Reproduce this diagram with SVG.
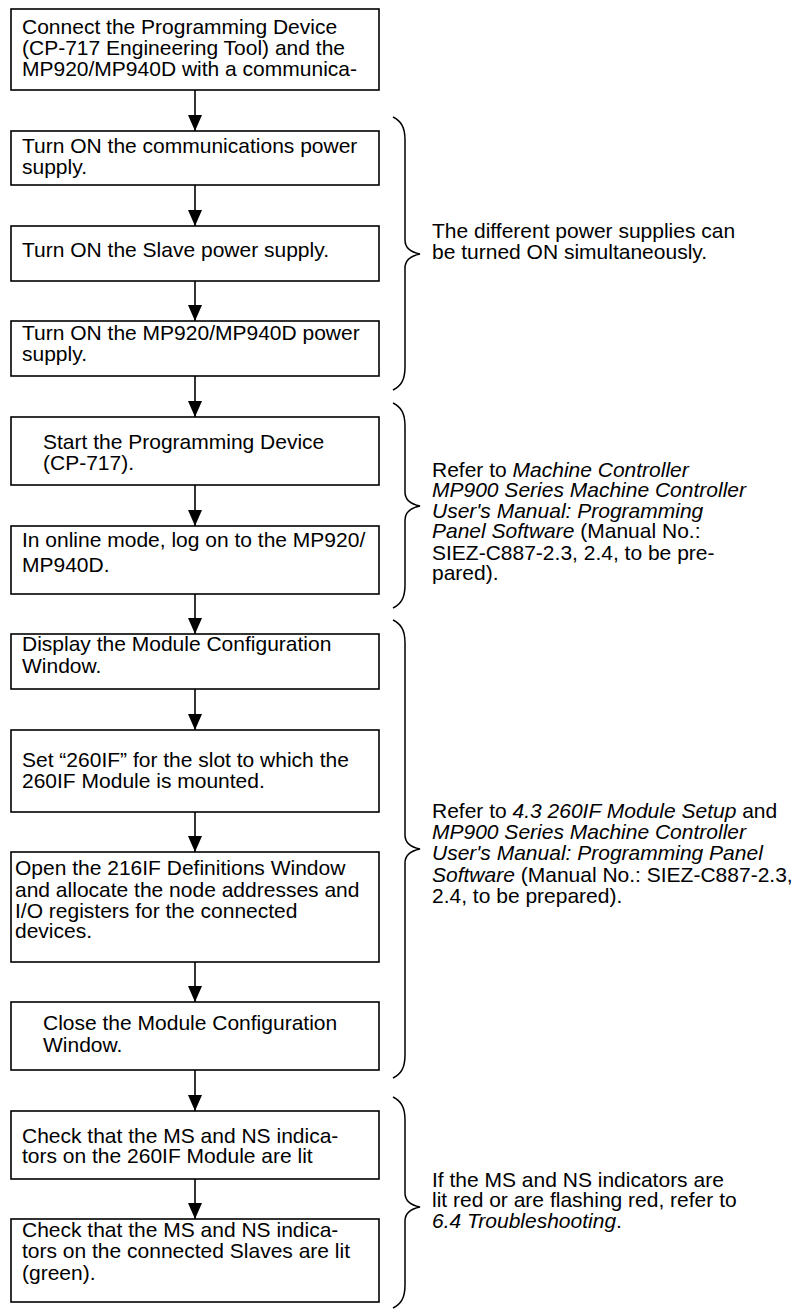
<svg xmlns="http://www.w3.org/2000/svg" width="794" height="1310" viewBox="0 0 794 1310">
<defs>
<style>
.box{fill:#fff;stroke:#000;stroke-width:1.6}
.t{font-family:"Liberation Sans",Arial,sans-serif;font-size:21px;fill:#000}
.i{font-style:italic}
.con{stroke:#000;stroke-width:1.6;fill:none}
.brace{stroke:#000;stroke-width:1.5;fill:none}
</style>
<marker id="ah" markerUnits="userSpaceOnUse" markerWidth="16" markerHeight="14" refX="16" refY="7" orient="auto" viewBox="0 0 16 14">
<path d="M0 0 L16 7 L0 14 Z" fill="#000"/>
</marker>
</defs>
<rect width="794" height="1310" fill="#fff"/>

<g id="connectors">
<line class="con" x1="195" y1="90" x2="195" y2="131" marker-end="url(#ah)"/>
<line class="con" x1="195" y1="185" x2="195" y2="226" marker-end="url(#ah)"/>
<line class="con" x1="195" y1="281" x2="195" y2="321" marker-end="url(#ah)"/>
<line class="con" x1="195" y1="376" x2="195" y2="417" marker-end="url(#ah)"/>
<line class="con" x1="195" y1="485" x2="195" y2="526" marker-end="url(#ah)"/>
<line class="con" x1="195" y1="594" x2="195" y2="634" marker-end="url(#ah)"/>
<line class="con" x1="195" y1="689" x2="195" y2="730" marker-end="url(#ah)"/>
<line class="con" x1="195" y1="812" x2="195" y2="852" marker-end="url(#ah)"/>
<line class="con" x1="195" y1="962" x2="195" y2="1002" marker-end="url(#ah)"/>
<line class="con" x1="195" y1="1070" x2="195" y2="1111" marker-end="url(#ah)"/>
<line class="con" x1="195" y1="1179" x2="195" y2="1219" marker-end="url(#ah)"/>
</g>

<g id="n1">
<rect class="box" x="11" y="9" width="368" height="81"/>
<text class="t" x="22" y="34">Connect the Programming Device</text>
<text class="t" x="22" y="55">(CP-717 Engineering Tool) and the</text>
<text class="t" x="22" y="76">MP920/MP940D with a communica-</text>
</g>
<g id="n2">
<rect class="box" x="11" y="131" width="368" height="54"/>
<text class="t" x="22" y="153">Turn ON the communications power</text>
<text class="t" x="22" y="174">supply.</text>
</g>
<g id="n3">
<rect class="box" x="11" y="226" width="368" height="55"/>
<text class="t" x="22" y="257">Turn ON the Slave power supply.</text>
</g>
<g id="n4">
<rect class="box" x="11" y="321" width="368" height="55"/>
<text class="t" x="22" y="340">Turn ON the MP920/MP940D power</text>
<text class="t" x="22" y="361">supply.</text>
</g>
<g id="n5">
<rect class="box" x="11" y="417" width="368" height="68"/>
<text class="t" x="43" y="449">Start the Programming Device</text>
<text class="t" x="43" y="470">(CP-717).</text>
</g>
<g id="n6">
<rect class="box" x="11" y="526" width="368" height="68"/>
<text class="t" x="22" y="547">In online mode, log on to the MP920/</text>
<text class="t" x="22" y="572">MP940D.</text>
</g>
<g id="n7">
<rect class="box" x="11" y="634" width="368" height="55"/>
<text class="t" x="22" y="651">Display the Module Configuration</text>
<text class="t" x="22" y="673">Window.</text>
</g>
<g id="n8">
<rect class="box" x="11" y="730" width="368" height="82"/>
<text class="t" x="22" y="767">Set “260IF” for the slot to which the</text>
<text class="t" x="22" y="788">260IF Module is mounted.</text>
</g>
<g id="n9">
<rect class="box" x="11" y="852" width="368" height="110"/>
<text class="t" x="15" y="875">Open the 216IF Definitions Window</text>
<text class="t" x="15" y="897">and allocate the node addresses and</text>
<text class="t" x="15" y="918">I/O registers for the connected</text>
<text class="t" x="15" y="938">devices.</text>
</g>
<g id="n10">
<rect class="box" x="11" y="1002" width="368" height="68"/>
<text class="t" x="43" y="1030">Close the Module Configuration</text>
<text class="t" x="43" y="1052">Window.</text>
</g>
<g id="n11">
<rect class="box" x="11" y="1111" width="368" height="68"/>
<text class="t" x="22" y="1143">Check that the MS and NS indica-</text>
<text class="t" x="22" y="1163">tors on the 260IF Module are lit</text>
</g>
<g id="n12">
<rect class="box" x="11" y="1219" width="368" height="83"/>
<text class="t" x="22" y="1237">Check that the MS and NS indica-</text>
<text class="t" x="22" y="1258">tors on the connected Slaves are lit</text>
<text class="t" x="22" y="1280">(green).</text>
</g>

<g id="note1">
<path class="brace" d="M393 117 C401 121 405 127 405 140 L405 240 C405 248 410 252 420 254 C410 256 405 260 405 268 L405 367 C405 380 401 386 393 390"/>
<text class="t" x="432" y="238">The different power supplies can</text>
<text class="t" x="432" y="259">be turned ON simultaneously.</text>
</g>
<g id="note2">
<path class="brace" d="M393 403 C401 407 405 413 405 426 L405 492 C405 500 410 504 420 506 C410 508 405 512 405 520 L405 585 C405 598 401 604 393 608"/>
<text class="t" x="432" y="477">Refer to <tspan class="i">Machine Controller</tspan></text>
<text class="t i" x="432" y="497">MP900 Series Machine Controller</text>
<text class="t i" x="432" y="518">User's Manual: Programming</text>
<text class="t" x="432" y="538"><tspan class="i">Panel Software</tspan> (Manual No.:</text>
<text class="t" x="432" y="560">SIEZ-C887-2.3, 2.4, to be pre-</text>
<text class="t" x="432" y="580">pared).</text>
</g>
<g id="note3">
<path class="brace" d="M393 620 C401 624 405 630 405 643 L405 835 C405 843 410 847 420 849 C410 851 405 855 405 863 L405 1055 C405 1068 401 1074 393 1078"/>
<text class="t" x="432" y="818">Refer to <tspan class="i">4.3 260IF Module Setup</tspan> and</text>
<text class="t i" x="432" y="839">MP900 Series Machine Controller</text>
<text class="t i" x="432" y="860">User's Manual: Programming Panel</text>
<text class="t" x="432" y="882"><tspan class="i">Software</tspan> (Manual No.: SIEZ-C887-2.3,</text>
<text class="t" x="432" y="903">2.4, to be prepared).</text>
</g>
<g id="note4">
<path class="brace" d="M393 1097 C401 1101 405 1107 405 1120 L405 1193 C405 1201 410 1205 420 1207 C410 1209 405 1213 405 1221 L405 1285 C405 1298 401 1304 393 1308"/>
<text class="t" x="432" y="1187">If the MS and NS indicators are</text>
<text class="t" x="432" y="1207">lit red or are flashing red, refer to</text>
<text class="t" x="432" y="1228"><tspan class="i">6.4 Troubleshooting</tspan>.</text>
</g>
</svg>
